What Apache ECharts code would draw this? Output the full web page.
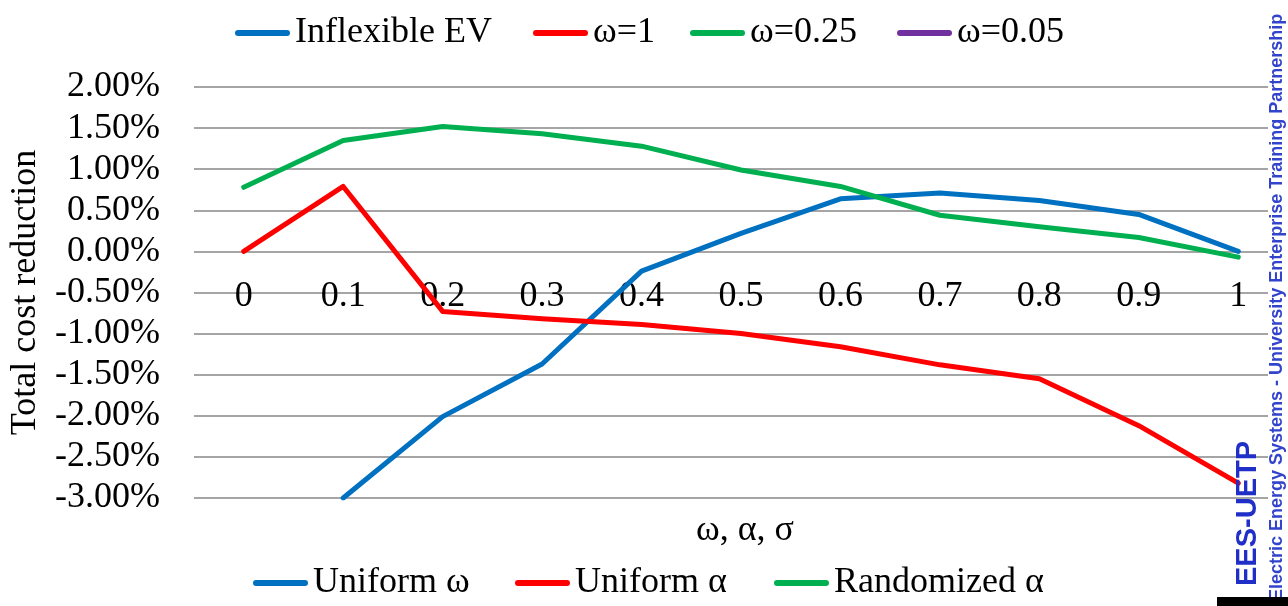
<!DOCTYPE html>
<html>
<head>
<meta charset="utf-8">
<style>
  html, body { margin: 0; padding: 0; background: #fff; }
  #chart { width: 1288px; height: 606px; }
</style>
<script src="https://cdn.jsdelivr.net/npm/echarts@6/dist/echarts.min.js"></script>
</head>
<body>
<div id="chart"></div>
<script>
// x categories (ω, α, σ)
const categories = ['0', '0.1', '0.2', '0.3', '0.4', '0.5', '0.6', '0.7', '0.8', '0.9', '1'];

// total cost reduction, in percent
const uniformOmega    = [null, -3.00, -2.01, -1.37, -0.24, 0.22, 0.64, 0.71, 0.62, 0.45, 0.00];
const uniformAlpha    = [0.00, 0.79, -0.73, -0.82, -0.89, -1.00, -1.16, -1.38, -1.55, -2.12, -2.82];
const randomizedAlpha = [0.78, 1.35, 1.52, 1.43, 1.28, 0.99, 0.79, 0.44, 0.30, 0.17, -0.07];

const topLegend = ['Inflexible EV', 'ω=1', 'ω=0.25', 'ω=0.05'];
const topColors = ['#0070C0', '#FF0000', '#00B050', '#7030A0'];
const bottomLegend = ['Uniform ω', 'Uniform α', 'Randomized α'];
const bottomColors = ['#0070C0', '#FF0000', '#00B050'];

// legend item start positions (px) as laid out in the original figure
const topLegendX = [235, 533, 690, 897];
const bottomLegendX = [253, 515, 774];

const FONT = 'Liberation Serif';
const capsule = 'path://M3,0 L52,0 A3,3 0 0 1 52,6 L3,6 A3,3 0 0 1 3,0 Z';

const chart = echarts.init(document.getElementById('chart'));

const series = [];
// legend-only series (no data shown in the figure)
topLegend.forEach((name, i) => {
    series.push({
        name: name, type: 'line', data: [],
        itemStyle: { color: topColors[i] },
        lineStyle: { color: topColors[i], width: 5 }
    });
});
[uniformOmega, uniformAlpha, randomizedAlpha].forEach((vals, i) => {
    series.push({
        name: bottomLegend[i], type: 'line', data: vals,
        symbol: 'none', silent: true,
        itemStyle: { color: bottomColors[i] },
        lineStyle: { color: bottomColors[i], width: 5, cap: 'round', join: 'round' }
    });
});

const legendText = { fontFamily: FONT, fontSize: 36, color: '#000' };
function legendItem(name, left, top) {
    return {
        data: [name], left: left, top: top, padding: 0,
        icon: capsule, itemWidth: 55, itemHeight: 6,
        textStyle: legendText, selectedMode: false
    };
}
const legends = []
    .concat(topLegend.map((n, i) => legendItem(n, topLegendX[i], 15)))
    .concat(bottomLegend.map((n, i) => legendItem(n, bottomLegendX[i], 565)));

const option = {
    animation: false,
    backgroundColor: '#fff',
    grid: { left: 193, right: 0, top: 87, bottom: 108, containLabel: false },
    legend: legends,
    title: {
        text: 'ω, α, σ', left: 740, top: 508, textAlign: 'center',
        textStyle: { fontFamily: FONT, fontSize: 36, fontWeight: 'normal', color: '#000' }
    },
    xAxis: {
        type: 'category',
        data: categories,
        boundaryGap: true,
        position: 'bottom',
        offset: -247,   // category axis crosses at 0.00%
        axisLine: { show: false, onZero: false },
        axisTick: { show: false },
        axisLabel: { fontFamily: FONT, fontSize: 36, color: '#000', margin: 28 }
    },
    yAxis: {
        type: 'value',
        min: -3, max: 2, interval: 0.5,
        name: 'Total cost reduction',
        nameLocation: 'middle', nameRotate: 90, nameGap: 150,
        nameTextStyle: { fontFamily: FONT, fontSize: 36, color: '#000' },
        axisLine: { show: false },
        axisTick: { show: false },
        axisLabel: {
            fontFamily: FONT, fontSize: 36, color: '#000', margin: 34,
            formatter: v => v.toFixed(2) + '%'
        },
        splitLine: { lineStyle: { color: '#878787', width: 1.5 } }
    },
    graphic: [
        { type: 'rect', z: 100, shape: { x: 1268, y: 0, width: 20, height: 606 }, style: { fill: '#fff' } },
        {
            type: 'text', z: 101, x: 1248, y: 586, rotation: Math.PI / 2,
            style: { text: 'EES-UETP', fill: '#1f2fc8', font: 'bold 29px "Liberation Sans"', align: 'left', verticalAlign: 'middle' }
        },
        {
            type: 'text', z: 101, x: 1277, y: 601, rotation: Math.PI / 2,
            style: { text: 'Electric Energy Systems - University Enterprise Training Partnership', fill: '#3344cc', font: 'bold 18px "Liberation Sans"', align: 'left', verticalAlign: 'middle' }
        },
        { type: 'rect', z: 101, shape: { x: 1217, y: 597, width: 71, height: 9 }, style: { fill: '#000' } }
    ],
    series: series
};

chart.setOption(option);
window.addEventListener('resize', () => chart.resize());
</script>
</body>
</html>
